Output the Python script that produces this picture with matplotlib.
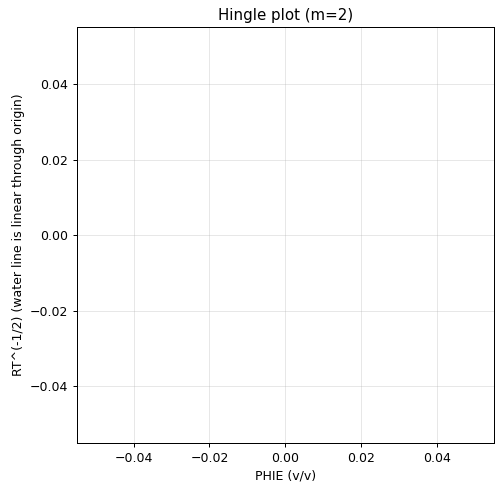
import matplotlib
matplotlib.use("Agg")
import matplotlib.pyplot as plt
import numpy as np

# Data (empty in the reference: no points plotted)
phie = np.array([], dtype=float)
rt_inv_sqrt = np.array([], dtype=float)

DPI = 90
fig = plt.figure(figsize=(503 / DPI, 492 / DPI), dpi=DPI)
ax = fig.add_axes([0.1525, 0.0996, 0.982 - 0.1525, 0.9445 - 0.0996])
ax.scatter(phie, rt_inv_sqrt, s=10)
ax.set_xlim(-0.055, 0.055)
ax.set_ylim(-0.055, 0.055)
ax.set_xlabel("PHIE (v/v)")
ax.set_ylabel("RT^(-1/2) (water line is linear through origin)")
ax.set_title("Hingle plot (m=2)")
ax.grid(True, alpha=0.3)
fig.savefig("out.png", dpi=DPI)
